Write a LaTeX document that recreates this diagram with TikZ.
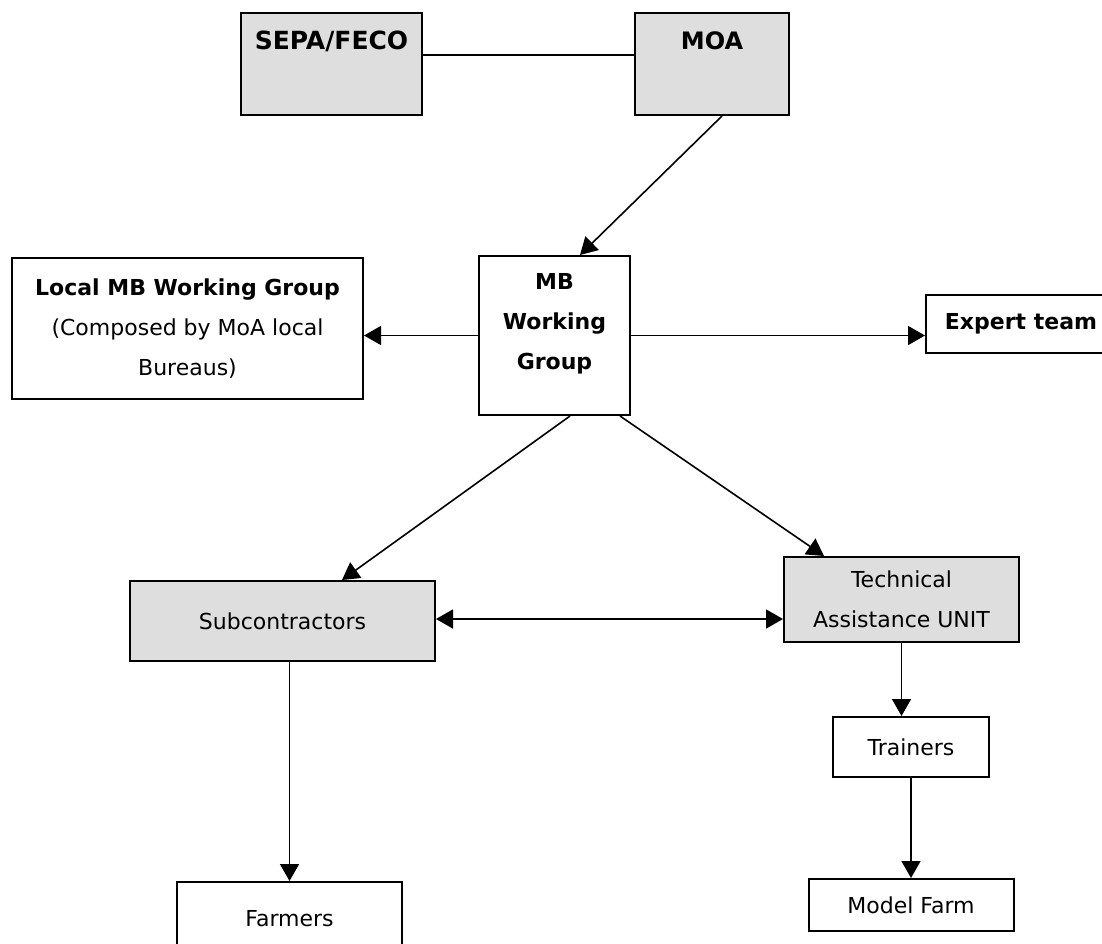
\documentclass[tikz,border=0pt]{standalone}
\usepackage{fontspec}
\setmainfont{DejaVu Sans}
\usepackage[dvipsnames]{xcolor}
\usepackage{tikz}
\usetikzlibrary{positioning}
\usetikzlibrary{calc}
\usetikzlibrary{arrows.meta}

\begin{document}
\begin{tikzpicture}[
	box/.style={draw, line width=1pt, fill=White, align=center, inner sep=2pt,
		font=\fontsize{11pt}{20pt}\selectfont},
	boldbox/.style={box, font=\fontsize{11pt}{20pt}\selectfont\bfseries},
	shaded/.style={fill=black!13},
	link/.style={line width=0.8pt},
	arr/.style={link, -{Triangle[length=8.5pt,width=9.5pt]}},
	dblarr/.style={link, {Triangle[length=8.5pt,width=9.5pt]}-{Triangle[length=8.5pt,width=9.5pt]}}
	]
	\useasboundingbox (0,0) rectangle (551pt,-471.5pt);
	
	\node[
	boldbox, shaded,
	font=\fontsize{12.5pt}{15pt}\selectfont\bfseries,
	text height=8pt, text depth=23pt,
	minimum width=90.5pt,
	minimum height=51pt
	] (SEPA) at (165.75pt,-32pt) {SEPA/FECO};
	
	\node[
	boldbox, shaded,
	font=\fontsize{12pt}{15pt}\selectfont\bfseries,
	text height=8pt, text depth=23pt,
	minimum width=77pt,
	minimum height=51pt,
	right=105.5pt of SEPA
	] (MOA) {MOA};
	
	% ---
	
	\node[
	boldbox,
	text depth=14pt,
	minimum width=75.5pt,
	minimum height=79.5pt,
	below=69.5pt of MOA, xshift=-78.75pt
	] (MBWG) {MB\\Working\\Group};
	
	\node[
	box,
	minimum width=175.5pt,
	minimum height=70.5pt,
	left=57pt of MBWG, yshift=3.5pt
	] (LocalWG) {\textbf{Local MB Working Group}\\(Composed by MoA local\\Bureaus)};
	
	\node[
	boldbox,
	minimum width=95pt,
	minimum height=29pt,
	right=147pt of MBWG, yshift=5.75pt
	] (Expert) {Expert team};
	
	% ---
	
	\node[
	box, shaded,
	minimum width=152.5pt,
	minimum height=40pt,
	below=82pt of MBWG, xshift=-136pt
	] (Subcontr) {Subcontractors};
	
	\node[
	box, shaded,
	minimum width=117.5pt,
	minimum height=42.5pt,
	below=70pt of MBWG, xshift=173.5pt
	] (TAUnit) {Technical\\Assistance UNIT};
	
	\node[
	box,
	minimum width=78pt,
	minimum height=30pt,
	below=36.5pt of TAUnit, xshift=4.75pt
	] (Trainers) {Trainers};
	
	\node[
	box,
	minimum width=102.5pt,
	minimum height=26pt,
	below=50pt of Trainers
	] (ModelFarm) {Model Farm};
	
	\node[
	box,
	minimum width=112.5pt,
	minimum height=37pt,
	below=109.5pt of Subcontr, xshift=3.5pt
	] (Farmers) {Farmers};
	
	% ---
	
	\draw[link] ([yshift=4.5pt]SEPA.east) -- ([yshift=4.5pt]MOA.west);
	
	\draw[arr] ([xshift=5pt]MOA.south) -- ([xshift=12.75pt]MBWG.north);
	
	\draw[arr] (MBWG.west) -- (MBWG.west -| LocalWG.east);
	
	\draw[arr] (MBWG.east) -- (MBWG.east -| Expert.west);
	
	\draw[arr] ([xshift=7.75pt]MBWG.south) -- ([xshift=29.75pt]Subcontr.north);
	
	\draw[arr] ([xshift=32.75pt]MBWG.south) -- ([xshift=-38.75pt]TAUnit.north);
	
	\draw[dblarr] ([yshift=1pt]Subcontr.east) -- ([yshift=1pt]Subcontr.east -| TAUnit.west);
	
	\draw[arr] (TAUnit.south) -- (TAUnit.south |- Trainers.north);
	
	\draw[arr] (Trainers.south) -- (Trainers.south |- ModelFarm.north);
	
	\draw[arr] (Subcontr.south -| Farmers.north) -- (Farmers.north);
\end{tikzpicture}
\end{document}
